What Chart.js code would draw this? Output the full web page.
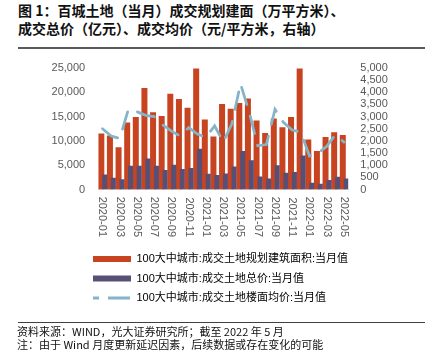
<!DOCTYPE html>
<html>
<head>
<meta charset="utf-8">
<script src="https://cdn.jsdelivr.net/npm/chart.js@4.4.1/dist/chart.umd.min.js"></script>
<style>
html,body{margin:0;padding:0;background:#fff;}
#wrap{position:relative;width:433px;height:356px;overflow:hidden;background:#fff;}
#c{position:absolute;left:0;top:0;}
.title{position:absolute;left:18px;top:1px;font-family:'Noto Sans CJK SC',sans-serif;font-weight:bold;font-size:14px;line-height:18px;color:#111;white-space:nowrap;}
.rule1{position:absolute;left:18px;top:46.5px;width:407px;height:2px;background:#5a5a5a;}
.rule2{position:absolute;left:18px;top:322px;width:407px;height:1px;background:#404040;}
.foot{position:absolute;left:17px;top:324.5px;font-family:'Noto Sans CJK SC',sans-serif;font-size:11px;line-height:13px;color:#111;white-space:nowrap;}
</style>
</head>
<body>
<div id="wrap">
  <div class="title">图 1：百城土地（当月）成交规划建面（万平方米）、<br>成交总价（亿元）、成交均价（元/平方米，右轴）</div>
  <div class="rule1"></div>
  <canvas id="c" width="433" height="356"></canvas>
  <div class="rule2"></div>
  <div class="foot">资料来源：WIND，光大证券研究所；截至 2022 年 5 月<br>注：由于 Wind 月度更新延迟因素，后续数据或存在变化的可能</div>
</div>
<script>
// ---- data ----
const categories = ['2020-01','2020-02','2020-03','2020-04','2020-05','2020-06','2020-07','2020-08','2020-09','2020-10','2020-11','2020-12',
  '2021-01','2021-02','2021-03','2021-04','2021-05','2021-06','2021-07','2021-08','2021-09','2021-10','2021-11','2021-12',
  '2022-01','2022-02','2022-03','2022-04','2022-05'];
// 成交土地规划建筑面积 (万平方米, left axis)
const floorArea = [11500, 11100, 8700, 13800, 14900, 20900, 15900, 15100, 19700, 18600, 16800, 24900,
  14400, 10900, 17600, 16600, 17800, 18700, 14200, 11600, 14600, 12800, 14900, 24900,
  10300, 7900, 10800, 11800, 11200];
// 成交土地总价 (亿元, left axis)
const totalPrice = [3100, 2400, 2100, 4900, 4900, 6400, 4900, 4000, 5100, 4200, 4400, 8400,
  3250, 3000, 3300, 4750, 7900, 6000, 2700, 2250, 5000, 3450, 3600, 7000,
  1400, 1200, 1950, 2600, 2250];
// 成交土地楼面均价 (元/平方米, right axis)
const avgPrice = [2500, 2200, 2100, 3300, 3200, 3050, 3000, 2650, 2400, 2200, 2550, 2280,
  2150, 2620, 1950, 2700, 4350, 3200, 1800, 1850, 3300, 2750, 2450, 2350,
  1380, 1500, 1780, 2250, 1950];
const seriesNames = ['100大中城市:成交土地规划建筑面积:当月值', '100大中城市:成交土地总价:当月值', '100大中城市:成交土地楼面均价:当月值'];
const leftTickStep = 5000, leftMax = 25000;
const rightTickStep = 500, rightMax = 5000;

// ---- style ----
const RED = '#C8431F', PURPLE = '#584F76', BLUE = '#84B4C8', GRAY = '#595959';
Chart.defaults.font.family = "'Liberation Sans','Noto Sans CJK SC',sans-serif";
Chart.defaults.font.size = 11;
Chart.defaults.color = GRAY;

const shiftLegend = {
  id: 'shiftLegend',
  afterLayout(chart) { chart.legend.left -= 13.7; }
};

new Chart(document.getElementById('c'), {
  type: 'bar',
  data: {
    labels: categories,
    datasets: [
      { label: seriesNames[0], data: floorArea, backgroundColor: RED, borderWidth: 0,
        xAxisID: 'x', yAxisID: 'y', order: 1, categoryPercentage: 0.556, barPercentage: 2.5 },
      { label: seriesNames[1], data: totalPrice, backgroundColor: PURPLE, borderWidth: 0,
        xAxisID: 'x2', yAxisID: 'y', order: 0, categoryPercentage: 1.02, barPercentage: 1.14 },
      { type: 'line', label: seriesNames[2], data: avgPrice, borderColor: BLUE, backgroundColor: BLUE,
        borderWidth: 2.75, borderDash: [18, 12], borderCapStyle: 'round', pointRadius: 0, tension: 0, fill: false,
        xAxisID: 'x', yAxisID: 'y1', order: -1 }
    ]
  },
  plugins: [shiftLegend],
  options: {
    responsive: false,
    animation: false,
    events: [],
    locale: 'en-US',
    layout: { padding: { top: 68, left: 0, right: 0, bottom: 42.5 } },
    scales: {
      x: {
        type: 'category', offset: true,
        grid: { display: false, drawTicks: false },
        border: { display: true, color: '#D9D9D9', width: 1 },
        ticks: {
          autoSkip: false, minRotation: -90, maxRotation: -90, padding: 47.5, color: GRAY,
          font: { size: 11 },
          callback: (v, i) => (i % 2 === 0 ? categories[i] : '')
        },
        afterFit: s => { s.height = 55.5; }
      },
      x2: { type: 'category', offset: true, display: false, grid: { offset: true } },
      y: {
        position: 'left', min: 0, max: leftMax,
        grid: { display: false, drawTicks: false },
        border: { display: false },
        ticks: { stepSize: leftTickStep, autoSkip: false, padding: 13, color: GRAY, font: { size: 11 } },
        afterFit: s => { s.width = 98.2; }
      },
      y1: {
        position: 'right', min: 0, max: rightMax,
        grid: { display: false, drawTicks: false, drawOnChartArea: false },
        border: { display: false },
        ticks: { stepSize: rightTickStep, autoSkip: false, padding: 12, color: GRAY, font: { size: 11 } },
        afterFit: s => { s.width = 84.7; }
      }
    },
    plugins: {
      tooltip: { enabled: false },
      title: { display: false },
      legend: {
        display: true, position: 'bottom', align: 'start', fullSize: false,
        labels: {
          usePointStyle: true, pointStyleWidth: 38, boxHeight: 6, padding: 8.5,
          color: GRAY, font: { size: 11 },
          generateLabels: () => [
            { text: seriesNames[0], fillStyle: RED, strokeStyle: RED, lineWidth: 0, pointStyle: 'rect', datasetIndex: 0, hidden: false },
            { text: seriesNames[1], fillStyle: PURPLE, strokeStyle: PURPLE, lineWidth: 0, pointStyle: 'rect', datasetIndex: 1, hidden: false },
            { text: seriesNames[2], fillStyle: 'rgba(0,0,0,0)', strokeStyle: BLUE, lineWidth: 3, pointStyle: 'line',
              lineDash: [22, 9], lineDashOffset: 16, lineCap: 'butt', datasetIndex: 2, hidden: false }
          ]
        }
      }
    }
  }
});
</script>
</body>
</html>
